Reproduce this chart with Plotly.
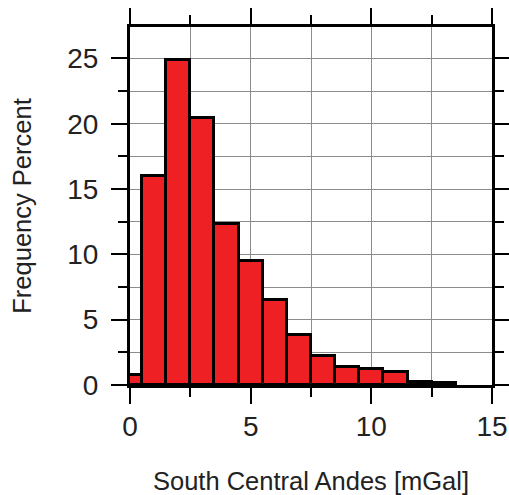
import plotly.graph_objects as go

# Histogram bins (width 1 mGal, centred on integers) and frequency percent
bin_centers = [0, 1, 2, 3, 4, 5, 6, 7, 8, 9, 10, 11, 12, 13]
freq_percent = [0.8, 16.0, 24.9, 20.4, 12.3, 9.5, 6.5, 3.8, 2.2, 1.4, 1.2, 1.0, 0.25, 0.15]
x_ticks = [0, 5, 10, 15]
y_ticks = [0, 5, 10, 15, 20, 25]

fig = go.Figure(
    go.Bar(
        x=bin_centers,
        y=freq_percent,
        width=1,
        marker=dict(color="#ee2024", line=dict(color="black", width=3)),
    )
)

font_family = "Liberation Sans, Arial, Helvetica, sans-serif"

axis_common = dict(
    automargin=False,
    showline=True,
    linecolor="black",
    linewidth=3,
    mirror="ticks",
    ticks="outside",
    ticklen=16,
    tickwidth=2,
    tickcolor="black",
    showgrid=True,
    gridcolor="#8c8c8c",
    gridwidth=1,
    zeroline=False,
    tickfont=dict(family=font_family, size=28, color="#222"),
    minor=dict(
        dtick=2.5,
        ticks="outside",
        ticklen=9,
        tickwidth=2,
        tickcolor="black",
        showgrid=True,
        gridcolor="#8c8c8c",
        gridwidth=1,
    ),
)

fig.update_xaxes(
    range=[0, 15],
    tickvals=x_ticks,
    dtick=5,
    ticklabelstandoff=-2,
    title=dict(text="South Central Andes [mGal]",
               font=dict(family=font_family, size=25.5, color="#222"),
               standoff=34),
    **axis_common,
)
fig.update_yaxes(
    range=[0, 27.4],
    tickvals=y_ticks,
    dtick=5,
    ticklabelstandoff=7,
    title=dict(text="Frequency Percent",
               font=dict(family=font_family, size=25.5, color="#222"),
               standoff=29),
    **axis_common,
)

fig.update_layout(
    width=509,
    height=495,
    margin=dict(l=130, r=17, t=27, b=110),
    paper_bgcolor="white",
    plot_bgcolor="white",
    bargap=0,
    showlegend=False,
)

fig.write_html("out.html")
